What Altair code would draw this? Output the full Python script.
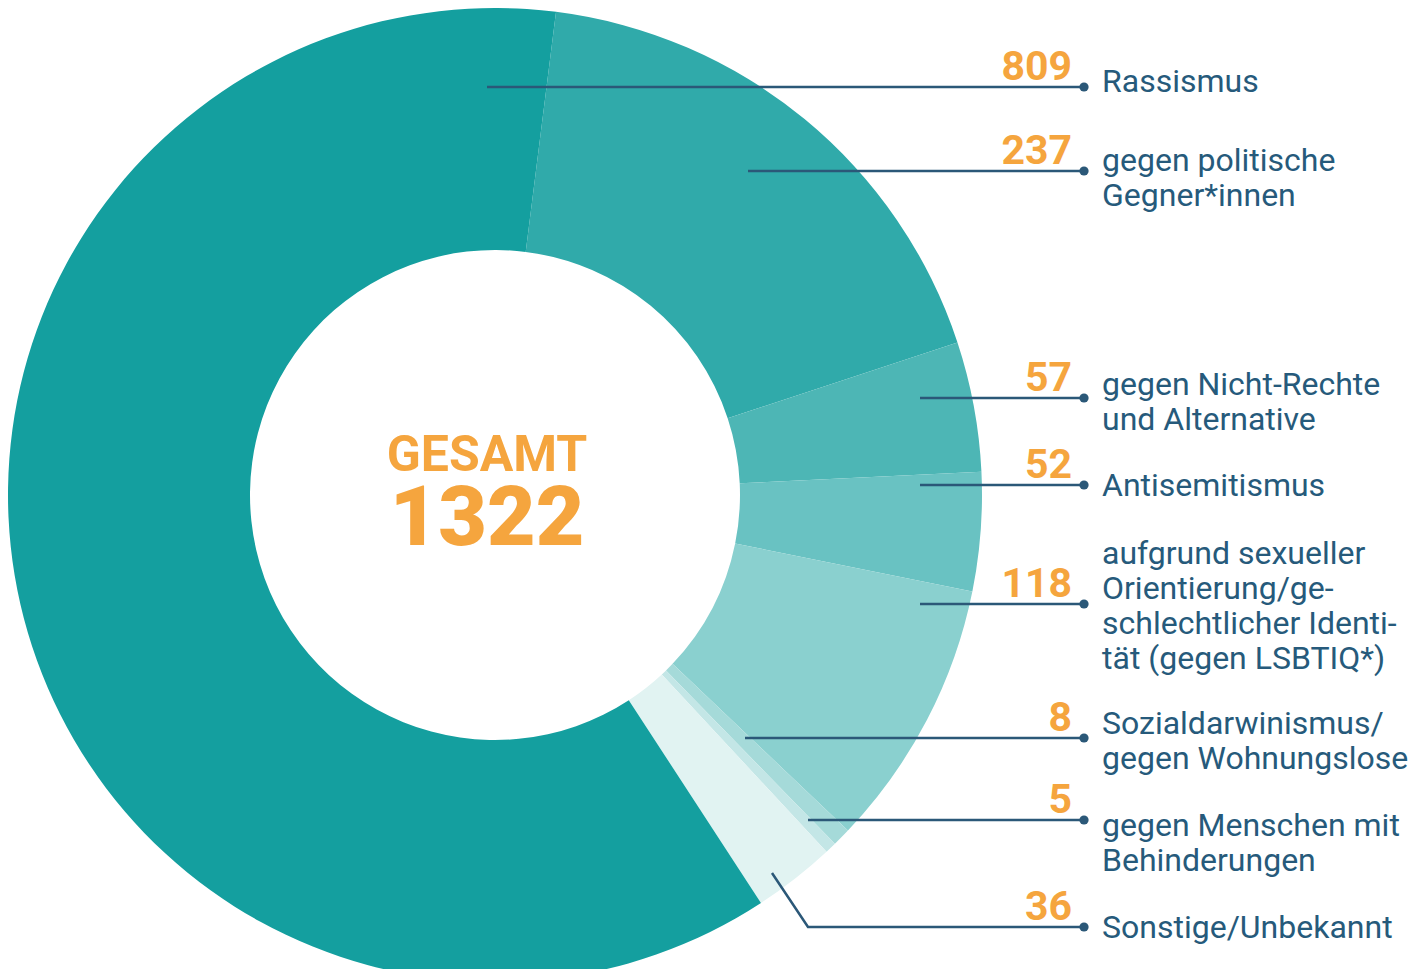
import math
import altair as alt
import pandas as pd

# ---- data ----
categories = [
    "gegen politische Gegner*innen",
    "gegen Nicht-Rechte und Alternative",
    "Antisemitismus",
    "aufgrund sexueller Orientierung/geschlechtlicher Identität (gegen LSBTIQ*)",
    "Sozialdarwinismus/gegen Wohnungslose",
    "gegen Menschen mit Behinderungen",
    "Sonstige/Unbekannt",
    "Rassismus",
]
values = [237, 57, 52, 118, 8, 5, 36, 809]
display_labels = [
    "gegen politische\nGegner*innen",
    "gegen Nicht-Rechte\nund Alternative",
    "Antisemitismus",
    "aufgrund sexueller\nOrientierung/ge-\nschlechtlicher Identi-\ntät (gegen LSBTIQ*)",
    "Sozialdarwinismus/\ngegen Wohnungslose",
    "gegen Menschen mit\nBehinderungen",
    "Sonstige/Unbekannt",
    "Rassismus",
]
colors = ["#30aaaa", "#4db6b5", "#69c2c2", "#8ad0cf", "#a5dad9", "#c3e6e6", "#e1f3f2", "#149f9f"]
center_title = "GESAMT"

# ---- layout (pixel positions; page coords minus margin) ----
OFF = 8
cx, cy = 495 - OFF, 495 - OFF
R_OUT, R_IN = 487, 245
start_angle = math.radians(7.2)

line_y = [171, 398, 485, 604, 738, 820, 927, 87]
line_x0 = [748, 920, 920, 920, 745, 808, 808, 487]
dot_x = 1084
num_right_x = 1072
label_x = 1102
label_y = [171, 395, 496, 564, 734, 836, 938, 92]

TEXT = "#265a7b"
LINE = "#2b5878"
ORANGE = "#f5a53e"

df = pd.DataFrame({
    "cat": categories,
    "value": values,
    "ord": list(range(len(values))),
    "label": display_labels,
    "num": [str(v) for v in values],
    "ly": [y - OFF for y in line_y],
    "tx": [label_x - OFF] * len(values),
    "ty": [y - OFF for y in label_y],
    "nx": [num_right_x - OFF] * len(values),
    "ny": [y - OFF - 7 for y in line_y],
    "dx": [dot_x - OFF] * len(values),
})

# leader line points
rows = []
for i, c in enumerate(categories):
    pts = []
    if c == "Sonstige/Unbekannt":
        pts.append((772 - OFF, 873 - OFF))
    pts.append((line_x0[i] - OFF, line_y[i] - OFF))
    pts.append((dot_x - OFF, line_y[i] - OFF))
    for k, (x, y) in enumerate(pts):
        rows.append({"cat": c, "k": k, "x": x, "y": y})
lines_df = pd.DataFrame(rows)

arc = alt.Chart(df).mark_arc(radius=R_OUT, radius2=R_IN, stroke=None).encode(
    theta=alt.Theta("value:Q", stack=True,
                    scale=alt.Scale(range=[start_angle, start_angle + 2 * math.pi])),
    color=alt.Color("cat:N", scale=alt.Scale(domain=categories, range=colors), legend=None),
    order=alt.Order("ord:Q"),
    x=alt.value(cx),
    y=alt.value(cy),
)

leader = alt.Chart(lines_df).mark_line(color=LINE, strokeWidth=2.5).encode(
    x=alt.X("x:Q", scale=None, axis=None),
    y=alt.Y("y:Q", scale=None, axis=None),
    detail="cat:N",
    order="k:Q",
)

dots = alt.Chart(df).mark_point(filled=True, color=LINE, size=85, opacity=1).encode(
    x=alt.X("dx:Q", scale=None, axis=None),
    y=alt.Y("ly:Q", scale=None, axis=None),
)

nums = alt.Chart(df).mark_text(
    align="right", baseline="alphabetic", font="Roboto", fontWeight="bold",
    fontSize=41, color=ORANGE,
).encode(
    x=alt.X("nx:Q", scale=None, axis=None),
    y=alt.Y("ny:Q", scale=None, axis=None),
    text="num:N",
)

labels = alt.Chart(df).mark_text(
    align="left", baseline="alphabetic", font="Roboto", fontSize=32,
    color=TEXT, lineBreak="\n", lineHeight=35,
).encode(
    x=alt.X("tx:Q", scale=None, axis=None),
    y=alt.Y("ty:Q", scale=None, axis=None),
    text="label:N",
)

center_df = pd.DataFrame({"t": [center_title], "total": [str(sum(values))]})
center1 = alt.Chart(center_df).mark_text(
    align="center", baseline="alphabetic", font="Roboto", fontWeight="bold",
    fontSize=50, color=ORANGE,
).encode(x=alt.value(487 - OFF), y=alt.value(471 - OFF), text="t:N")
center2 = alt.Chart(center_df).mark_text(
    align="center", baseline="alphabetic", font="Roboto", fontWeight=900,
    fontSize=84, color=ORANGE,
).encode(x=alt.value(487 - OFF), y=alt.value(545 - OFF), text="total:N")

chart = alt.layer(arc, leader, dots, nums, labels, center1, center2).properties(
    width=1409, height=961,
    autosize=alt.AutoSizeParams(type="none"),
    padding=0,
).configure_view(stroke=None)

chart.save("out.html", embed_options={"renderer": "svg", "actions": False})
